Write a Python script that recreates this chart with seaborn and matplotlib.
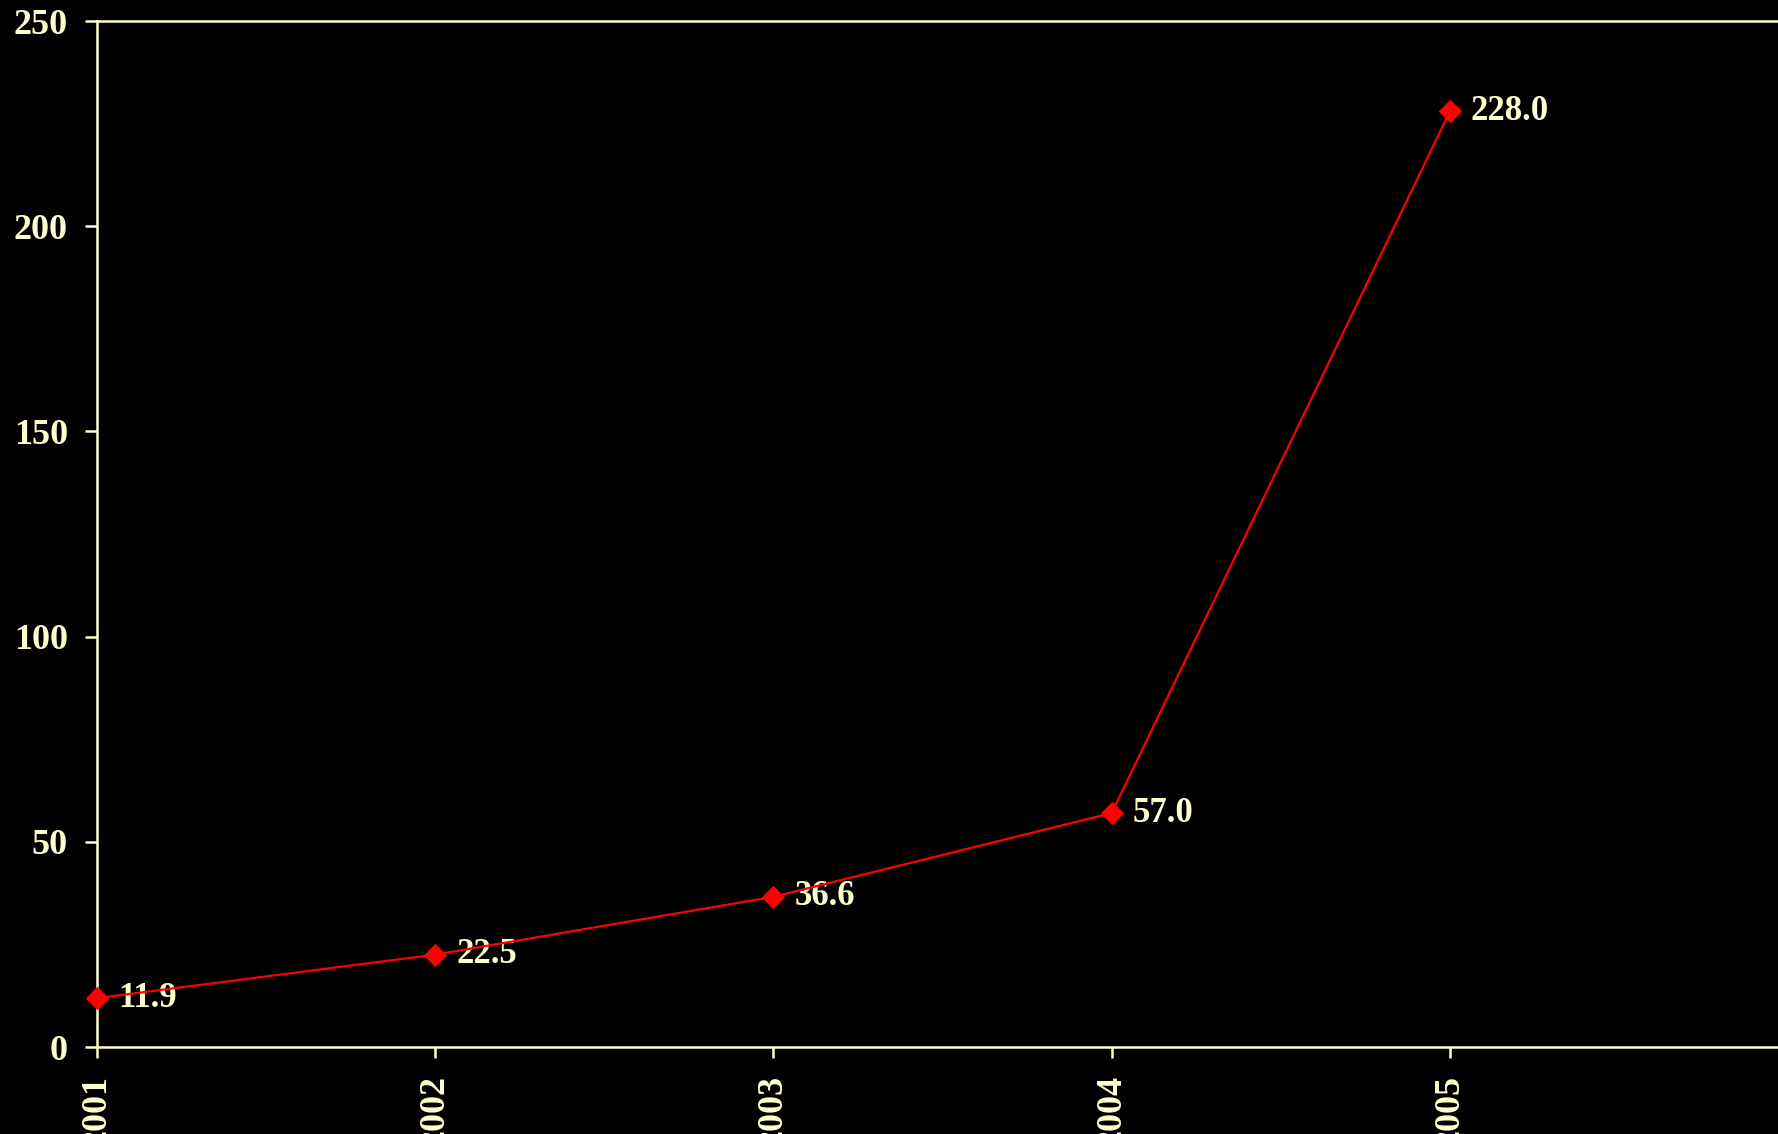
import matplotlib
matplotlib.use("Agg")
import matplotlib.pyplot as plt
import seaborn as sns
import pandas as pd

years = ["2001", "2002", "2003", "2004", "2005"]
values = [11.9, 22.5, 36.6, 57.0, 228.0]
labels = ["11.9", "22.5", "36.6", "57.0", "228.0"]
yticks = [0, 50, 100, 150, 200, 250]

CREAM = "#FFFFCC"
sns.set_style("dark")
plt.rcParams["font.family"] = ["Liberation Serif", "DejaVu Serif"]
plt.rcParams["font.weight"] = "bold"

fig = plt.figure(figsize=(17.78, 11.34), dpi=100, facecolor="black")
ax = fig.add_axes([97/1778, 1 - 1047/1134, 1 - 97/1778, (1047 - 21)/1134])
ax.set_facecolor("black")

df = pd.DataFrame({"year": years, "value": values})
sns.lineplot(data=df, x="year", y="value", ax=ax, color="#FF0000", linewidth=1.6,
             marker="D", markersize=11, markeredgecolor="#FF0000", sort=False,
             clip_on=False, zorder=5)

for i, (v, t) in enumerate(zip(values, labels)):
    ax.annotate(t, (i, v), xytext=(15, 0), textcoords="offset points",
                ha="left", va="center", color=CREAM, fontsize=25, fontweight="bold")

ax.set_xlim(0, 4.97)
ax.set_ylim(0, 250)
ax.set_yticks(yticks)
ax.set_yticklabels([str(t) for t in yticks])
ax.set_xlabel("")
ax.set_ylabel("")
ax.grid(False)

for s in ["left", "bottom", "top"]:
    ax.spines[s].set_visible(True)
    ax.spines[s].set_color(CREAM)
    ax.spines[s].set_linewidth(1.8)
ax.spines["right"].set_visible(False)

ax.tick_params(axis="y", colors=CREAM, length=9, width=1.8, direction="out", pad=12,
               labelsize=26, left=True)
ax.tick_params(axis="x", colors=CREAM, length=8, width=1.8, direction="out", pad=12,
               labelsize=26, labelrotation=90, bottom=True)
for lab in ax.get_xticklabels() + ax.get_yticklabels():
    lab.set_fontweight("bold")
    lab.set_color(CREAM)
for lab in ax.get_xticklabels():
    lab.set_va("top")

fig.savefig("out.png", dpi=100, facecolor="black")
